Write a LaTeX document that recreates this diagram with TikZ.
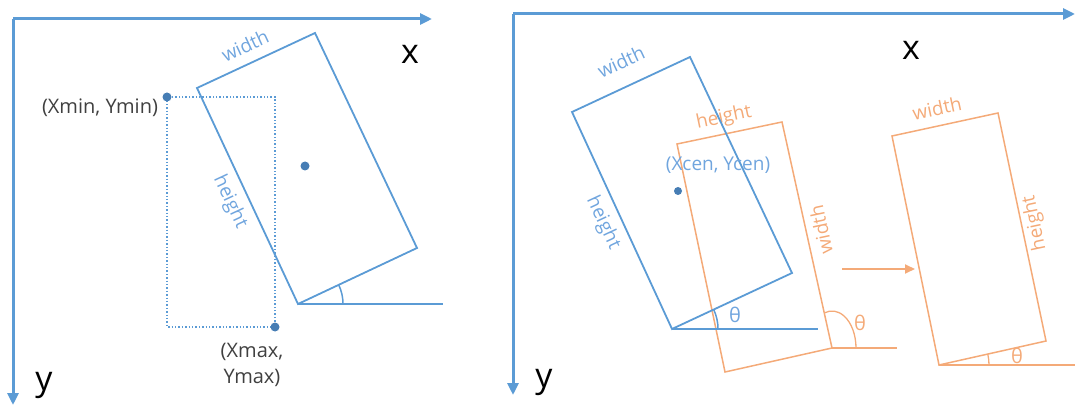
\documentclass[tikz,border=0pt]{standalone}
\usepackage{fontspec}
\setmainfont{Open Sans}
\usetikzlibrary{arrows.meta,calc}
\definecolor{bl}{RGB}{91,155,213}
\definecolor{blt}{RGB}{112,165,222}
\definecolor{bdot}{RGB}{70,125,180}
\definecolor{org}{RGB}{244,170,120}
\definecolor{dk}{RGB}{64,64,64}
\tikzset{
  axis/.style={bl,line width=3pt,-{Triangle[length=12pt,width=11pt]}},
  bbox/.style={bl,line width=1.8pt,line join=miter},
  obox/.style={org,line width=1.5pt,line join=miter},
  dotbox/.style={bl,line width=1.4pt,dotted},
  pt/.style={circle,fill=bdot,inner sep=0pt,minimum size=9pt},
  axlab/.style={font=\fontsize{34}{34}\selectfont,text=black,inner sep=0pt},
  coordlab/.style={font=\fontsize{20}{26}\selectfont,text=dk,inner sep=0pt,align=center},
  blab/.style={font=\fontsize{19}{19}\selectfont,text=blt,inner sep=0pt},
  olab/.style={font=\fontsize{19}{19}\selectfont,text=org,inner sep=0pt},
}
\begin{document}
\begin{tikzpicture}[x=1pt,y=1pt]
\useasboundingbox (0,0) rectangle (1075,407);
% ---------- left panel ----------
\coordinate (O1) at (13,388);
\coordinate (X1) at (432,388);
\coordinate (Y1) at (13,2);
\draw[axis] (O1) -- (X1);
\draw[axis] (O1) -- (Y1);
\node[axlab] (x1) at (410,353) {x};
\node[axlab] (y1) at (44,22) {y};
\coordinate (A) at (197,319);
\coordinate (B) at (315,374);
\coordinate (C) at (417,159);
\coordinate (D) at (298,103);
\coordinate (D2) at (443,103);
\draw[dotbox] (167,310) rectangle (275,80);
\draw[bbox] (A) -- (B) -- (C) -- (D) -- cycle;
\draw[bl,line width=2.4pt] (D) -- (D2);
\draw[bl,line width=1.5pt] ($(D)+(45,0)$) arc[start angle=0,end angle=25,radius=45];
\node[pt] (cen1) at (305,241) {};
\node[pt] (mn) at (167,310) {};
\node[pt] (mx) at (275,80) {};
\node[coordlab] (mnl) at (100,299) {(Xmin, Ymin)};
\node[coordlab] (mxl) at (252,42) {(Xmax,\\Ymax)};
\node[blab,rotate=25] (w1) at (245,361) {width};
\node[blab,rotate=-65] (h1) at (230,205) {height};
% ---------- right panel ----------
\coordinate (O2) at (513,393);
\coordinate (X2) at (1075,393);
\coordinate (Y2) at (513,12);
\draw[axis] (O2) -- (X2);
\draw[axis] (O2) -- (Y2);
\node[axlab] (x2) at (911,357) {x};
\node[axlab] (y2) at (544,25) {y};
% blue rect
\coordinate (E) at (572,295);
\coordinate (F) at (690,350);
\coordinate (G) at (792,134);
\coordinate (H) at (672,78);
\coordinate (H2) at (818,78);
% orange rect 1
\coordinate (P) at (677,263);
\coordinate (Q) at (782,285);
\coordinate (R) at (832,59);
\coordinate (S) at (725,35);
\coordinate (R2) at (897,59);
\draw[obox] (P) -- (Q) -- (R) -- (S) -- cycle;
\draw[org,line width=1.5pt] (R) -- (R2);
\draw[org,line width=1.3pt] ($(R)+(24,0)$) arc[start angle=0,end angle=109,x radius=24,y radius=37];
\node[olab] (oh1) at (724,289) [rotate=12] {height};
\node[olab] (ow1) at (821,177) [rotate=102] {width};
\node[olab,font=\fontsize{20}{20}\selectfont] (ot1) at (860,84) {θ};
\draw[bbox] (E) -- (F) -- (G) -- (H) -- cycle;
\draw[bl,line width=1.8pt] (H) -- (H2);
\draw[bl,line width=1.5pt] ($(H)+(46,0)$) arc[start angle=0,end angle=25,radius=46];
\node[pt,minimum size=8pt] (cen2) at (678,216) {};
\node[blab] (cl) at (718,242) {(Xcen, Ycen)};
\node[blab,rotate=25] (w2) at (621,345) {width};
\node[blab,rotate=-65] (h2) at (603,184) {height};
\node[blab,font=\fontsize{20}{20}\selectfont] (bt) at (735,92) {θ};
% arrow
\coordinate (a1) at (842,138);
\coordinate (a2) at (915,138);
\draw[org,line width=1.8pt,-{Triangle[length=10pt,width=9pt]}] (a1) -- (a2);
% orange rect 2
\coordinate (T) at (892,271);
\coordinate (U) at (998,294);
\coordinate (V) at (1046,66);
\coordinate (W) at (939,42);
\coordinate (W2) at (1075,42);
\draw[obox] (T) -- (U) -- (V) -- (W) -- cycle;
\draw[org,line width=1.5pt] (W) -- (W2);
\draw[org,line width=1.3pt] ($(W)+(50,0)$) arc[start angle=0,end angle=12.6,radius=50];
\node[olab,rotate=12] (ow2) at (937,299) {width};
\node[olab,rotate=102] (oh2) at (1035,184) {height};
\node[olab,font=\fontsize{20}{20}\selectfont] (ot2) at (1017,51) {θ};
\end{tikzpicture}
\end{document}
